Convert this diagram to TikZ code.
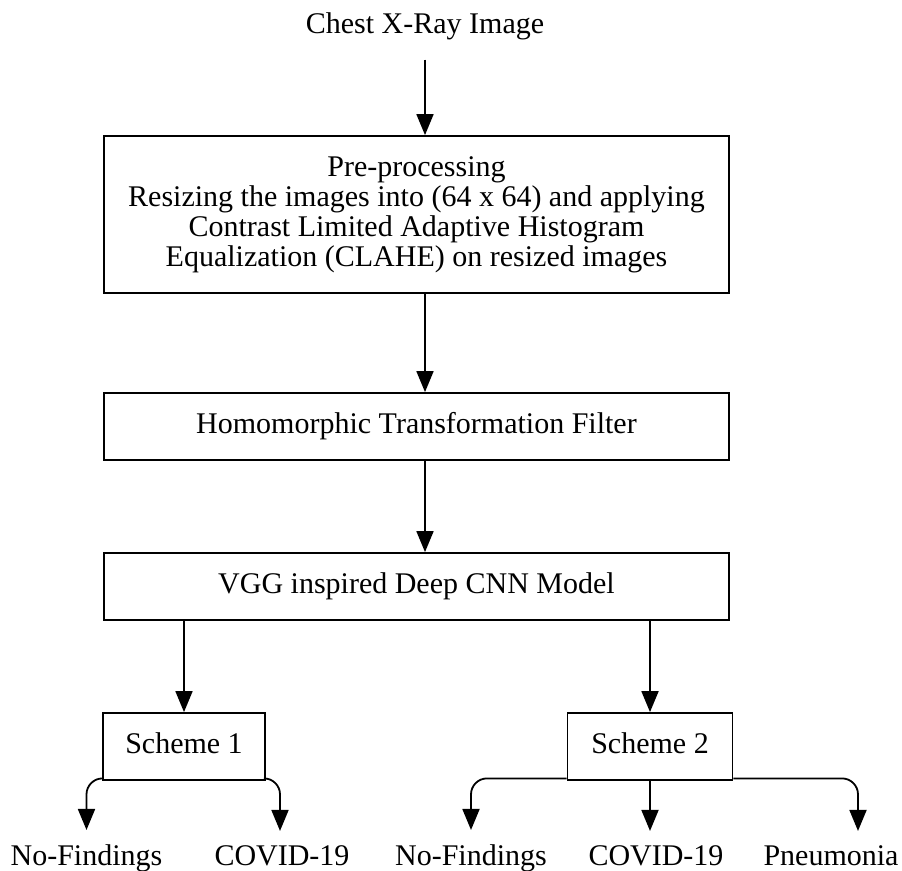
\documentclass[tikz,border=0pt]{standalone}
\usepackage{fontspec}
\setmainfont{Liberation Serif}
\usetikzlibrary{arrows.meta}
\begin{document}
\begin{tikzpicture}[x=1pt,y=-1pt,
  every node/.style={font=\fontsize{30}{30}\selectfont},
  box/.style={draw, line width=1.8pt, inner sep=0pt, align=center},
  onebox/.style={box, text height=20pt, text depth=7pt},
  lbl/.style={inner sep=0pt, anchor=base},
  arr/.style={line width=1.8pt, -{Triangle[length=21pt,width=17pt]}},
  branch/.style={arr, rounded corners=16pt}]
  \useasboundingbox (0,0) rectangle (902,870);

  % title
  \node[lbl] (chest) at (425,33) {Chest X-Ray Image};

  % main pipeline
  \node[box, minimum width=625pt, minimum height=157pt] (pre) at (416.5,214.5)
    {Pre-processing\\Resizing the images into (64 x 64) and applying\\
     Contrast Limited Adaptive Histogram\\Equalization (CLAHE) on resized images};
  \node[onebox, minimum width=625pt, minimum height=67pt] (homo) at (416.5,426.5)
    {Homomorphic Transformation Filter};
  \node[onebox, minimum width=625pt, minimum height=67pt] (vgg) at (416.5,586.5)
    {VGG inspired Deep CNN Model};

  % schemes
  \node[onebox, minimum width=162pt, minimum height=67pt] (s1) at (184,746.5) {Scheme 1};
  \node[onebox, minimum width=165pt, minimum height=67pt] (s2) at (650,746.5) {Scheme 2};

  % class labels
  \node[lbl] (nf1) at (86.5,865) {No-Findings};
  \node[lbl] (cv1) at (282,865) {COVID-19};
  \node[lbl] (nf2) at (471,865) {No-Findings};
  \node[lbl] (cv2) at (656,865) {COVID-19};
  \node[lbl] (pn)  at (831,865) {Pneumonia};

  % connectors of the main column
  \draw[arr] ([yshift=-20pt]chest.south) -- (chest.south |- pre.north);
  \draw[arr] (chest.south |- pre.south) -- (chest.south |- homo.north);
  \draw[arr] (chest.south |- homo.south) -- (chest.south |- vgg.north);
  \draw[arr] (s1.north |- vgg.south) -- (s1.north);
  \draw[arr] (s2.north |- vgg.south) -- (s2.north);

  % branches to the classes
  \draw[branch] ([yshift=2.5pt]s1.south west) -| ([yshift=14pt]nf1.north);
  \draw[branch] ([yshift=2.5pt]s1.south east) -| ([xshift=-2pt,yshift=14pt]cv1.north);
  \draw[branch] ([yshift=2.5pt]s2.south west) -| ([yshift=14pt]nf2.north);
  \draw[arr] (s2.south) -- ([xshift=-6pt,yshift=14pt]cv2.north);
  \draw[branch] ([yshift=2.5pt]s2.south east) -| ([xshift=27pt,yshift=14pt]pn.north);
\end{tikzpicture}
\end{document}
